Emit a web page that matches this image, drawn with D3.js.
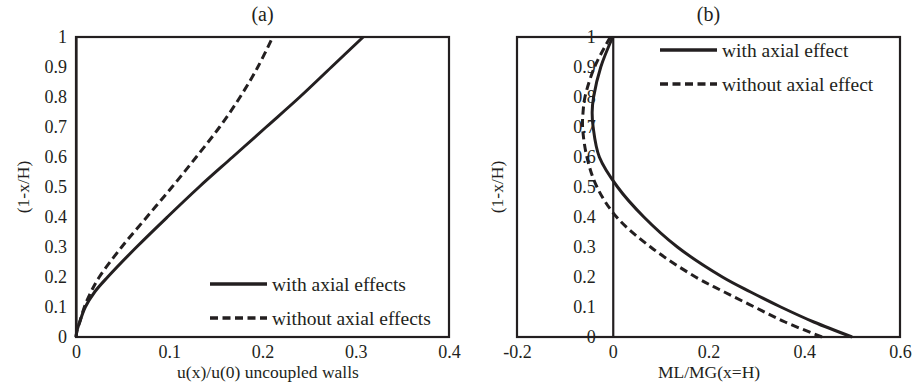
<!DOCTYPE html>
<html>
<head>
<meta charset="utf-8">
<script src="https://cdn.jsdelivr.net/npm/d3@7"></script>
<style>
  body { margin: 0; background: #fff; }
  text { font-family: "Liberation Serif", "Times New Roman", serif; fill: #231f20; }
</style>
</head>
<body>
<div class="chart"></div>
<script>
// (a) displacement profile
const aHeight   = [0, 0.02, 0.05, 0.1, 0.15, 0.2, 0.3, 0.4, 0.5, 0.6, 0.7, 0.8, 0.9, 1.0];
const aWith     = [0, 0.001, 0.004, 0.010, 0.020, 0.034, 0.065, 0.098, 0.132, 0.168, 0.204, 0.240, 0.274, 0.308];
const aWithout  = [0, 0.001, 0.004, 0.009, 0.016, 0.025, 0.049, 0.076, 0.103, 0.129, 0.154, 0.176, 0.195, 0.211];
const aXTicks   = [0, 0.1, 0.2, 0.3, 0.4];

// (b) moment ratio
const bHeight   = [0, 0.05, 0.1, 0.15, 0.2, 0.3, 0.4, 0.5, 0.6, 0.7, 0.75, 0.8, 0.9, 1.0];
const bWith     = [0.500, 0.420, 0.351, 0.288, 0.229, 0.135, 0.065, 0.010, -0.028, -0.041, -0.043, -0.040, -0.025, 0];
const bWithout  = [0.437, 0.360, 0.296, 0.233, 0.173, 0.079, 0.008, -0.033, -0.054, -0.063, -0.062, -0.058, -0.038, -0.005];
const bXTicks   = [-0.2, 0, 0.2, 0.4, 0.6];

const yTicks = [0, 0.1, 0.2, 0.3, 0.4, 0.5, 0.6, 0.7, 0.8, 0.9, 1];

const svg = d3.select(".chart")
  .append("svg")
  .attr("width", 914)
  .attr("height", 390);

// plain hyphen for negatives, like the original
const fmt = d => String(+d.toFixed(1));

function panel(opts) {
  const { left, right, top, bottom } = opts;
  const x = d3.scaleLinear().domain(opts.xDomain).range([left, right]);
  const y = d3.scaleLinear().domain([0, 1]).range([bottom, top]);
  const g = svg.append("g");

  // frame
  g.append("rect")
    .attr("x", left).attr("y", top)
    .attr("width", right - left).attr("height", bottom - top)
    .attr("fill", "none").attr("stroke", "#231f20").attr("stroke-width", 2.2);

  // x axis
  const xAxis = g.append("g")
    .attr("transform", `translate(0,${bottom})`)
    .call(d3.axisBottom(x).tickValues(opts.xTicks).tickSize(0).tickPadding(8).tickFormat(fmt));
  xAxis.select(".domain").remove();
  xAxis.selectAll("text").style("font-size", "18px").attr("fill", "#231f20");

  // y axis at x = 0
  const yAxis = g.append("g")
    .attr("transform", `translate(${x(0)},0)`)
    .call(d3.axisLeft(y).tickValues(yTicks).tickSize(0).tickPadding(opts.yPad).tickFormat(fmt));
  yAxis.select(".domain").attr("stroke", "#231f20").attr("stroke-width", 2.2);
  yAxis.selectAll("text").style("font-size", "18px").attr("fill", "#231f20");

  const line = d3.line()
    .x(d => x(d[0]))
    .y(d => y(d[1]))
    .curve(d3.curveCatmullRom.alpha(0.5));

  g.append("path")
    .datum(opts.hgt.map((h, i) => [opts.sWith[i], h]))
    .attr("d", line)
    .attr("fill", "none").attr("stroke", "#231f20").attr("stroke-width", 3);

  g.append("path")
    .datum(opts.hgt.map((h, i) => [opts.sWithout[i], h]))
    .attr("d", line)
    .attr("fill", "none").attr("stroke", "#231f20").attr("stroke-width", 3)
    .attr("stroke-dasharray", "8,4.5");

  // title
  g.append("text")
    .attr("x", (left + right) / 2).attr("y", 21)
    .attr("text-anchor", "middle").style("font-size", "20px")
    .text(opts.title);

  // axis titles
  g.append("text")
    .attr("x", opts.xTitleX).attr("y", 378)
    .attr("text-anchor", "middle").style("font-size", "17.5px")
    .text(opts.xTitle);

  g.append("text")
    .attr("transform", `translate(${opts.yTitleX},187) rotate(-90)`)
    .attr("text-anchor", "middle").style("font-size", "17.5px")
    .text("(1-x/H)");

  // legend
  const lg = g.append("g");
  opts.legend.forEach((lab, i) => {
    const ly = opts.legY + i * 34;
    lg.append("line")
      .attr("x1", opts.legX).attr("x2", opts.legX + 57)
      .attr("y1", ly).attr("y2", ly)
      .attr("stroke", "#231f20").attr("stroke-width", 3.5)
      .attr("stroke-dasharray", i === 1 ? "8,4.5" : null);
    lg.append("text")
      .attr("x", opts.legX + 62).attr("y", ly + 7)
      .style("font-size", "19.5px")
      .text(lab);
  });
}

panel({
  left: 76, right: 449, top: 37, bottom: 337,
  xDomain: [0, 0.4], xTicks: aXTicks, yPad: 9,
  hgt: aHeight, sWith: aWith, sWithout: aWithout,
  title: "(a)", xTitle: "u(x)/u(0) uncoupled walls", xTitleX: 268, yTitleX: 29,
  legend: ["with axial effects", "without axial effects"], legX: 210, legY: 284
});

panel({
  left: 517, right: 900, top: 37, bottom: 337,
  xDomain: [-0.2, 0.6], xTicks: bXTicks, yPad: 17,
  hgt: bHeight, sWith: bWith, sWithout: bWithout,
  title: "(b)", xTitle: "ML/MG(x=H)", xTitleX: 709, yTitleX: 503,
  legend: ["with axial effect", "without axial effect"], legX: 660, legY: 50
});
</script>
</body>
</html>
